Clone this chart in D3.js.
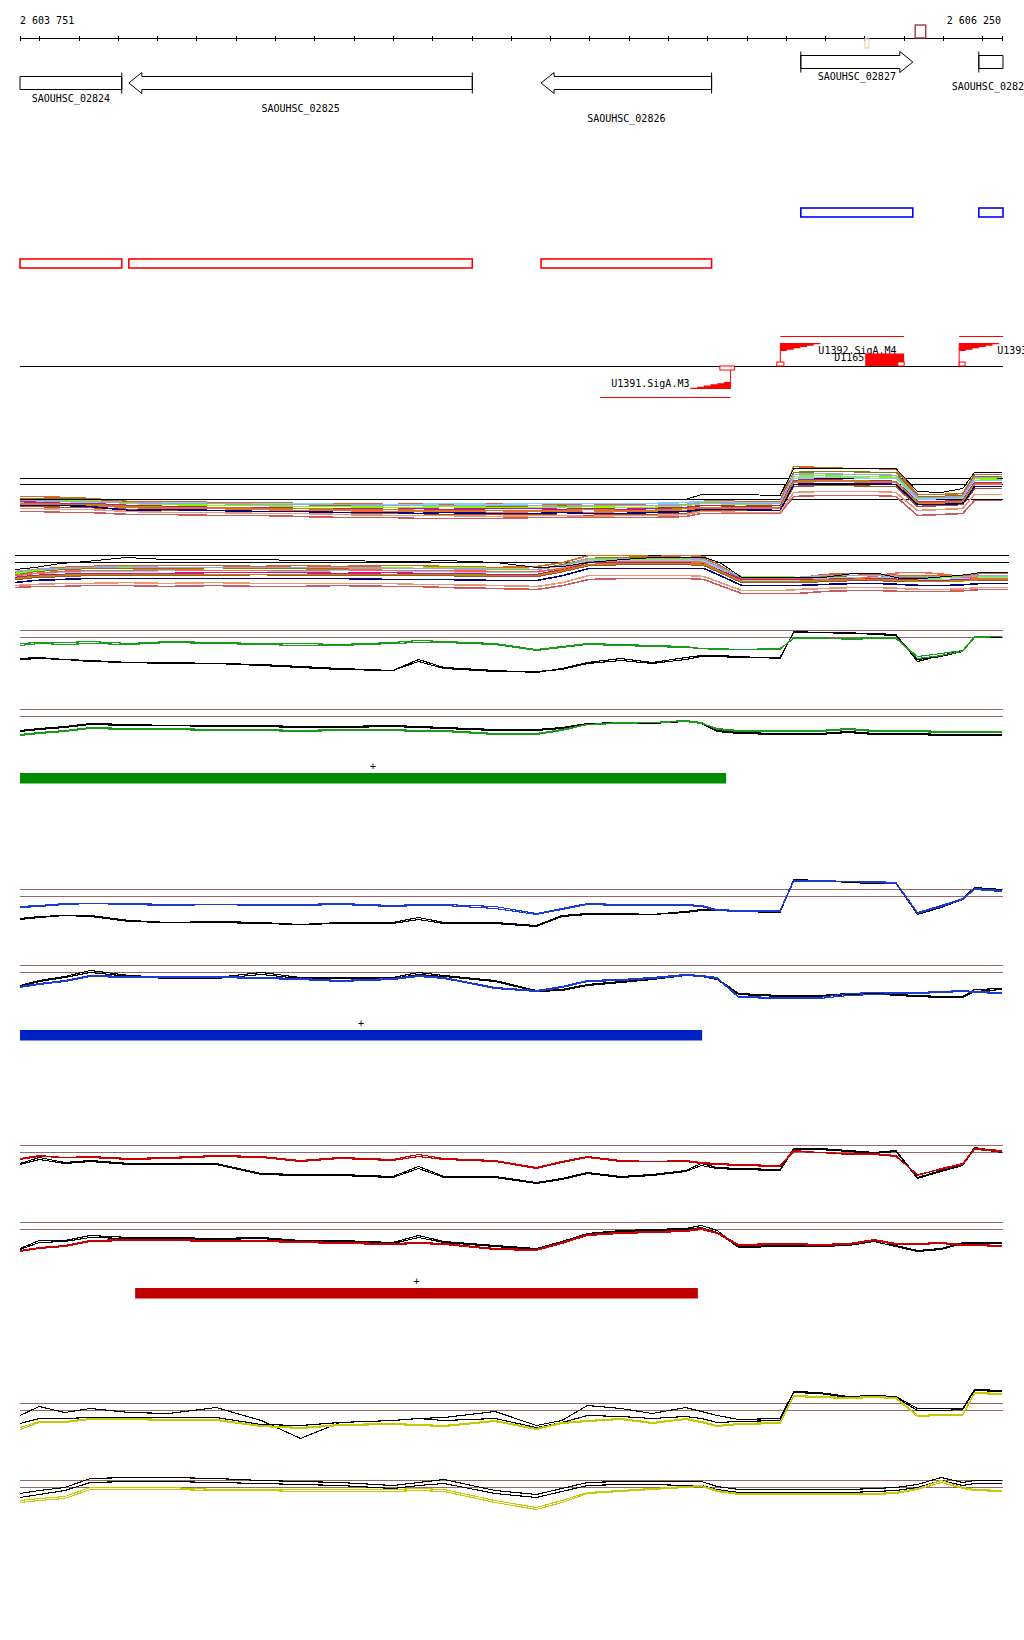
<!DOCTYPE html>
<html><head><meta charset="utf-8">
<script src="https://cdn.jsdelivr.net/npm/d3@7"></script>
<style>
body{margin:0;background:#fff}
svg{display:block}
text{font-family:"DejaVu Sans Mono",monospace;font-size:10px;fill:#000}
path.data{shape-rendering:crispEdges}
</style></head><body>
<svg id="c" width="1024" height="1640"></svg>
<script>
// ---------------- DATA ----------------
const regionStart = 2603751, regionEnd = 2606250;
const axisLabels = ["2 603 751", "2 606 250"];

const geneNames   = ["SAOUHSC_02824","SAOUHSC_02825","SAOUHSC_02826","SAOUHSC_02827","SAOUHSC_02828"];
const geneStarts  = [2603500, 2604028, 2605077, 2605738, 2606191];
const geneEnds    = [2604010, 2604902, 2605511, 2606023, 2606600];
const geneStrands = ["-","-","-","+","+"];
const geneLabelRows = [0,1,2,0,1];

const siteStarts  = [2605901, 2606029];
const siteEnds    = [2605911, 2606056];
const siteStrands = ["-","+"];

const promoterNames   = ["U1391.SigA.M3","U1392.SigA.M4","U1393.SigA.M4"];
const promoterPos     = [2605559, 2605686, 2606141];
const promoterStrands = ["-","+","+"];
const promoterBoxStarts = [2605532, 2605677, 2606141];
const promoterBoxEnds   = [2605569, 2605695, 2606156];
const unitStarts = [2605227, 2605686, 2606141];
const unitEnds   = [2605559, 2606001, 2606400];
const terminatorNames  = ["D1165"];
const terminatorStarts = [2605902];
const terminatorEnds   = [2606001];
const terminatorBoxStarts = [2605985];

const positions = [2603751,2603800,2603865,2603930,2604030,2604130,2604250,2604365,2604465,2604565,
  2604700,2604765,2604830,2604960,2605065,2605130,2605195,2605280,2605360,2605445,
  2605485,2605525,2605580,2605685,2605720,2605785,2605860,2605925,2605980,2606035,
  2606095,2606150,2606180,2606250];

// multi-condition track 1
const m1Black = [39,39,39,39,39,39,39,39,39,39,39,39,39,39,39,39,39,39,39,39,44,44,44,43,70,70,70,70,70,47,46,50,66,66];
const m1s1  = [42,42,41,40,37,37,36,36,35,35,34,35,34,35,35,34,35,34,35,36,37,38,37,37,72,71,70,70,69,44,44,45,64,64];
const m1s2  = [40,40,40,39,36,35,35,34,34,33,33,33,33,32,33,33,32,33,33,34,36,36,36,36,66,67,67,66,66,42,42,43,62,62];
const m1s3  = [39,39,38,38,35,34,33,33,32,32,31,31,32,31,31,31,32,31,31,33,35,35,34,35,62,63,62,62,61,40,40,41,60,59];
const m1s4  = [36,37,37,36,36,36,35,35,35,34,34,34,35,34,35,35,35,35,35,36,37,37,36,36,60,61,61,60,60,39,40,40,58,58];
const m1s5  = [37,36,35,35,33,32,31,31,30,30,29,30,29,30,30,29,30,29,30,31,33,33,32,33,58,59,58,58,57,37,37,38,56,56];
const m1s6  = [34,34,33,33,31,30,30,29,28,28,27,27,27,26,27,27,26,27,27,28,30,30,30,30,56,57,57,56,56,35,35,36,54,54];
const m1s7  = [32,32,31,31,29,28,28,27,27,26,25,25,24,24,24,23,23,24,24,25,28,28,28,28,52,53,53,52,52,32,33,34,50,50];
const m1s8  = [33,33,33,32,28,29,28,27,27,26,26,25,26,25,25,26,25,25,26,27,29,29,29,28,54,55,55,55,54,34,34,35,52,52];
const m1s9  = [38,38,37,37,36,35,35,34,34,34,33,33,33,33,33,32,33,33,33,34,36,36,35,35,64,65,64,64,63,41,41,42,61,61];
const m1s10 = [35,35,34,34,32,31,31,30,30,29,29,28,28,28,28,28,29,28,28,30,31,31,31,31,57,58,58,57,57,36,36,37,55,55];
const m1s11 = [27,27,26,26,24,24,23,23,22,21,21,20,20,20,21,21,21,21,21,22,25,25,25,25,42,43,43,43,42,23,24,25,38,38];
const m1s12 = [30,30,29,29,27,26,26,25,25,24,23,23,23,22,23,23,22,23,23,24,27,27,26,26,46,47,47,47,46,28,29,30,44,44];

// multi-condition track 2
const m2Black = [46,48,52,54,58,56,56,56,55,55,54,54,55,53,48,49,53,56,58,58,58,53,38,38,38,38,42,42,37,37,39,41,43,43];
const m2s1  = [43,46,48,49,50,50,50,49,50,49,50,50,49,48,49,53,60,60,59,60,59,50,37,37,37,41,42,41,40,40,40,40,42,42];
const m2s2  = [41,44,46,47,47,47,48,47,47,47,47,47,47,46,46,51,57,58,58,58,57,48,36,36,36,39,40,40,38,38,38,39,40,40];
const m2s3  = [42,45,47,48,48,48,48,48,48,48,48,47,48,47,46,50,56,56,56,56,55,47,39,39,38,38,38,38,37,37,38,39,39,39];
const m2s4  = [39,42,43,44,44,45,45,45,44,45,45,44,44,43,43,48,55,55,55,55,54,46,35,35,35,37,38,38,37,36,36,37,38,38];
const m2s5  = [38,40,41,42,42,42,43,43,43,42,43,42,42,41,41,46,53,53,53,53,52,45,36,36,36,36,37,37,36,35,35,36,37,37];
const m2s6  = [40,42,44,45,45,46,45,45,45,46,45,45,45,44,44,47,54,54,54,54,53,44,34,34,34,36,36,40,43,43,41,38,37,37];
const m2s7  = [36,38,39,40,40,40,40,41,40,40,40,40,40,39,39,44,50,51,51,51,50,43,33,33,33,34,35,35,34,34,34,35,35,35];
const m2s8  = [33,35,36,37,37,37,37,37,37,37,36,36,36,35,35,40,47,47,47,47,47,40,30,30,30,31,32,32,31,30,30,31,32,32];
const m2s9  = [44,46,47,48,49,48,48,48,48,48,47,47,47,46,46,50,57,57,57,57,56,48,38,38,38,40,40,40,39,39,39,39,40,40];
const m2s10 = [37,39,40,41,41,41,41,41,41,41,41,41,41,40,40,45,51,52,52,52,51,44,34,34,34,35,36,36,35,34,34,35,36,36];
const m2s11 = [28,29,29,30,30,29,30,29,29,30,29,29,28,27,26,30,36,37,37,37,36,30,22,22,22,24,25,25,24,24,24,25,26,26];
const m2s12 = [30,31,32,32,33,32,33,32,32,32,32,31,31,30,29,33,40,40,40,40,39,33,25,25,26,27,28,28,27,26,26,27,28,28];

// condition A (green)
const greenTopBlack1 = [32,33,31,30,28,28,27,26,24,22,20,31,23,20,18,22,28,32,28,33,35,35,34,32,59,58,57,57,56,29,35,40,54,54];
const greenTopBlack2 = [31,32,31,29,28,27,27,25,23,21,20,29,22,19,19,21,27,30,27,31,34,34,33,33,58,58,58,56,55,31,34,39,54,53];
const greenTop1 = [47,48,48,49,47,49,48,47,47,46,48,50,49,47,41,44,47,46,45,44,42,42,41,41,53,53,51,52,52,34,37,40,54,54];
const greenTop2 = [45,47,46,47,46,48,47,46,45,45,47,48,48,46,40,43,46,45,44,43,42,41,41,42,52,52,52,53,53,32,35,39,53,54];
const greenBotBlack1 = [39,41,43,46,45,44,44,44,43,43,44,43,42,40,40,42,46,47,47,49,47,39,37,36,36,36,38,36,36,36,35,35,35,35];
const greenBotBlack2 = [38,40,42,45,44,44,43,43,42,42,43,42,41,39,39,41,45,46,46,48,46,38,36,35,35,35,37,35,35,35,34,34,34,34];
const greenBot1 = [34,36,38,41,40,40,39,39,38,39,39,38,38,35,35,39,45,47,47,49,47,40,38,38,38,38,40,38,38,38,37,37,37,37];
const greenBot2 = [35,37,39,42,41,41,40,40,39,40,40,39,39,36,36,40,45,46,47,48,46,41,39,39,39,39,41,39,39,39,38,38,38,38];

// condition B (blue)
const blueTopBlack1 = [31,33,34,34,29,27,28,27,25,27,27,32,27,27,24,34,36,36,35,38,40,40,39,38,70,69,68,67,67,36,43,51,62,60];
const blueTopBlack2 = [30,32,34,33,28,27,27,26,25,26,26,30,26,26,23,33,35,35,35,37,39,39,38,37,69,69,67,66,66,35,42,50,61,59];
const blueTop1 = [43,44,46,46,46,45,45,45,45,46,44,45,45,43,36,41,46,45,45,45,44,40,39,39,69,69,68,68,67,37,44,51,61,59];
const blueTop2 = [42,43,45,46,45,44,45,44,44,45,43,44,44,41,35,40,45,44,44,44,43,39,38,38,68,68,68,67,66,36,43,50,60,58];
const blueBotBlack1 = [40,45,49,55,50,48,48,53,48,48,48,53,50,45,35,36,41,44,47,51,50,47,32,30,30,30,32,33,31,30,29,29,36,37];
const blueBotBlack2 = [39,44,48,53,49,47,47,51,47,47,47,51,49,44,34,35,40,43,46,50,49,46,31,29,29,29,31,32,30,29,28,28,34,36];
const blueBot1 = [39,42,45,50,49,49,49,48,47,45,47,50,48,38,35,39,45,46,48,51,50,48,29,28,28,28,32,33,33,33,34,35,34,33];
const blueBot2 = [38,41,44,49,48,48,48,47,46,44,46,49,47,37,34,38,44,45,47,50,49,47,28,27,27,27,30,31,32,32,33,34,33,32];

// condition C (red)
const redTopBlack1 = [42,48,43,45,42,42,42,32,31,31,29,39,29,29,23,27,33,29,31,35,42,38,37,36,57,57,55,53,55,28,35,41,58,54];
const redTopBlack2 = [41,46,42,44,41,41,41,31,30,30,28,37,28,28,22,26,32,28,30,34,40,37,36,35,56,56,54,52,54,27,34,40,57,53];
const redTop1 = [47,50,48,49,47,48,50,49,45,48,46,51,47,45,38,44,49,45,44,45,43,42,41,40,55,53,52,52,50,30,37,42,57,55];
const redTop2 = [46,49,48,48,46,47,49,48,44,47,45,49,46,44,37,43,48,44,44,44,42,41,40,39,54,53,51,51,49,31,36,41,56,54];
const redBotBlack1 = [34,42,42,47,45,45,44,45,42,42,40,47,41,37,34,41,49,52,53,54,57,52,36,37,37,37,38,43,37,32,34,40,40,40];
const redBotBlack2 = [33,40,41,45,44,44,43,44,41,41,39,45,40,36,33,40,48,51,52,53,55,50,35,36,36,36,37,41,36,31,33,39,39,39];
const redBot1 = [32,35,37,42,43,43,42,42,41,40,39,40,39,34,33,40,48,50,51,52,54,50,38,39,39,38,39,43,39,39,40,38,38,37];
const redBot2 = [31,34,36,41,42,42,41,41,40,39,38,39,38,33,32,39,47,49,50,51,53,49,37,38,38,37,38,42,38,38,39,37,37,36];

// condition D (yellow)
const yellowTopBlack1 = [48,57,51,55,51,50,56,43,25,41,43,45,46,52,38,43,58,55,50,56,52,48,44,45,72,71,67,68,67,55,55,55,74,73];
const yellowTopBlack2 = [40,45,45,46,46,46,46,39,38,41,43,45,43,45,36,41,48,47,45,47,45,41,42,43,71,70,66,67,66,53,53,54,73,72];
const yellowTop1 = [36,42,42,45,45,44,44,38,36,39,40,39,38,43,35,41,43,45,41,45,42,38,40,41,68,67,66,67,66,48,49,49,71,70];
const yellowTop2 = [34,41,41,44,44,43,43,37,35,38,39,38,37,42,34,40,42,44,40,44,41,37,39,40,67,66,65,66,65,47,48,48,70,69];
const yellowBotBlack1 = [47,50,53,62,63,63,62,60,59,58,55,58,61,50,46,52,58,59,59,59,59,54,51,51,51,51,51,52,53,56,63,58,60,60];
const yellowBotBlack2 = [43,46,50,58,59,59,58,57,56,55,52,55,57,47,43,49,55,56,56,55,55,51,48,48,48,48,48,49,50,53,60,55,57,57];
const yellowBot1 = [40,42,44,53,53,53,51,51,51,51,51,52,51,40,33,40,48,50,52,54,55,50,47,47,47,47,47,47,48,52,60,53,51,50];
const yellowBot2 = [38,40,42,51,51,51,50,50,49,49,49,50,49,38,31,38,47,49,51,53,54,49,46,46,46,46,46,46,47,51,58,52,50,49];

const thresholdHigh = 60, thresholdLow = 53;
const m1Thresholds = [60, 54, 39];
const m2Thresholds = [60, 53];

const unitBarStarts = [2603751, 2603751, 2604044];
const unitBarEnds   = [2605548, 2605487, 2605476];
const unitBarLabels = ["+", "+", "+"];

// ---------------- DRAWING ----------------
const svg = d3.select("#c");
const x = d3.scaleLinear().domain([regionStart, regionEnd]).range([20, 1002]);
const x2 = d3.scaleLinear().domain([regionStart, regionEnd]).range([15, 1008]);
const XMIN = 20, XMAX = 1003;
const cx = v => Math.max(XMIN, Math.min(XMAX, x(v)));

// axis
const axisY = 38.5;
const tickVals = [regionStart, ...d3.range(2603800, 2606201, 100), regionEnd];
const axG = svg.append("g").attr("transform", `translate(0,${axisY})`)
  .call(d3.axisBottom(x).tickValues(tickVals).tickSize(3).tickSizeOuter(0).tickFormat(""));
axG.select(".domain").attr("stroke", "#000").attr("d", `M${x(regionStart)},0H${x(regionEnd)}`);
axG.selectAll(".tick line").attr("y1", -2.5).attr("y2", 2.5).attr("stroke", "#000").attr("shape-rendering", "crispEdges");
svg.append("text").attr("x", 20).attr("y", 23.5).text(axisLabels[0]);
svg.append("text").attr("x", 1001).attr("y", 23.5).attr("text-anchor", "end").text(axisLabels[1]);

// site marks on axis
siteStarts.forEach((s, i) => {
  const up = siteStrands[i] === "+";
  svg.append("rect").attr("x", x(s)).attr("width", x(siteEnds[i]) - x(s))
    .attr("y", up ? 25 : 39).attr("height", up ? 13 : 9)
    .attr("fill", "none").attr("stroke", up ? "#a02828" : "#f6d3c2").attr("stroke-width", 1.3);
});

// genes
geneNames.forEach((name, i) => {
  const minus = geneStrands[i] === "-";
  const yc = minus ? 83 : 62, sh = 6.5, hh = 10.5, head = 13;
  const xs = cx(geneStarts[i]), xe = cx(geneEnds[i]);
  const startIn = geneStarts[i] >= regionStart, endIn = geneEnds[i] <= regionEnd;
  let pts;
  if (minus) {
    if (startIn) pts = [[xs, yc], [xs + head, yc - hh], [xs + head, yc - sh], [xe, yc - sh], [xe, yc + sh], [xs + head, yc + sh], [xs + head, yc + hh]];
    else pts = [[xs, yc - sh], [xe, yc - sh], [xe, yc + sh], [xs, yc + sh]];
  } else {
    if (endIn) pts = [[xe, yc], [xe - head, yc - hh], [xe - head, yc - sh], [xs, yc - sh], [xs, yc + sh], [xe - head, yc + sh], [xe - head, yc + hh]];
    else pts = [[xs, yc - sh], [xe, yc - sh], [xe, yc + sh], [xs, yc + sh]];
  }
  svg.append("path").attr("d", d3.line()(pts) + "Z").attr("fill", "none").attr("stroke", "#000").attr("stroke-width", 1);
  const markX = minus ? (endIn ? xe : null) : (startIn ? xs : null);
  if (markX !== null) svg.append("line").attr("x1", markX).attr("x2", markX).attr("y1", yc - hh).attr("y2", yc + hh).attr("stroke", "#000");
  svg.append("text").attr("x", (xs + xe) / 2).attr("y", yc + hh + (minus ? 8 : 7) + geneLabelRows[i] * 10)
    .attr("text-anchor", "middle").text(name);
  // strand rows
  svg.append("rect").attr("x", xs).attr("width", xe - xs)
    .attr("y", minus ? 259 : 208).attr("height", 9)
    .attr("fill", "none").attr("stroke", minus ? "#ff0000" : "#0000ff").attr("stroke-width", 1.6);
});

// promoters / terminators
const baseY = 366;
svg.append("line").attr("x1", XMIN).attr("x2", XMAX).attr("y1", baseY + 0.5).attr("y2", baseY + 0.5).attr("stroke", "#000");
const RED = "#ff0000";
promoterNames.forEach((name, i) => {
  const px = x(promoterPos[i]), plus = promoterStrands[i] === "+";
  const L = 40, h = plus ? 8 : 7, n = 6;
  if (plus) {
    const top = 343;
    svg.append("line").attr("x1", px).attr("x2", px).attr("y1", baseY).attr("y2", top).attr("stroke", RED);
    const pts = [[px, top], [px + L, top]];
    for (let k = n - 1; k >= 0; k--) { const yy = top + h * (n - k) / n; pts.push([px + L * (k + 1) / n, yy], [px + L * k / n, yy]); }
    svg.append("path").attr("d", d3.line()(pts) + "Z").attr("fill", RED);
    svg.append("text").attr("x", px + L - 2).attr("y", 353.5).text(name);
    svg.append("line").attr("x1", px).attr("x2", cx(unitEnds[i])).attr("y1", 336.5).attr("y2", 336.5).attr("stroke", RED);
    svg.append("rect").attr("x", x(promoterBoxStarts[i])).attr("width", x(promoterBoxEnds[i]) - x(promoterBoxStarts[i]))
      .attr("y", baseY - 4).attr("height", 4).attr("fill", "#fff").attr("stroke", RED);
  } else {
    const bot = 389;
    svg.append("line").attr("x1", px).attr("x2", px).attr("y1", baseY).attr("y2", bot).attr("stroke", RED);
    const pts = [[px, bot], [px - L, bot]];
    for (let k = n - 1; k >= 0; k--) { const yy = bot - h * (n - k) / n; pts.push([px - L * (k + 1) / n, yy], [px - L * k / n, yy]); }
    svg.append("path").attr("d", d3.line()(pts) + "Z").attr("fill", RED);
    svg.append("text").attr("x", px - L - 1).attr("y", 386.5).attr("text-anchor", "end").text(name);
    svg.append("line").attr("x1", cx(unitStarts[i])).attr("x2", px).attr("y1", 397.5).attr("y2", 397.5).attr("stroke", RED);
    svg.append("rect").attr("x", x(promoterBoxStarts[i])).attr("width", x(promoterBoxEnds[i]) - x(promoterBoxStarts[i]))
      .attr("y", baseY).attr("height", 4).attr("fill", "#fff").attr("stroke", RED);
  }
});
terminatorNames.forEach((name, i) => {
  const a = x(terminatorStarts[i]), b = x(terminatorEnds[i]);
  svg.append("rect").attr("x", a).attr("width", b - a).attr("y", 353.5).attr("height", 12.5).attr("fill", RED);
  svg.append("rect").attr("x", x(terminatorBoxStarts[i])).attr("width", b - x(terminatorBoxStarts[i]))
    .attr("y", baseY - 4).attr("height", 4).attr("fill", "#fff").attr("stroke", RED);
  svg.append("text").attr("x", a - 1).attr("y", 361).attr("text-anchor", "end").text(name);
});

// multi-condition tracks
const multiColors = ["#d2691e","#808000","#7cfc00","#87cefa","#c71585","#ff6347","#a0522d","#000080","#a0a0e0","#b8860b","#cd5c5c","#e9967a"];
function multiTrack(xs, top, thresholds, series, black) {
  const y = d3.scaleLinear().domain([0, 60]).range([top + 60, top]);
  const g = svg.append("g");
  thresholds.forEach(t => g.append("line").attr("x1", xs.range()[0]).attr("x2", xs.range()[1] + 1)
    .attr("y1", y(t) + 0.5).attr("y2", y(t) + 0.5).attr("stroke", "#000"));
  const line = d3.line().x((d, i) => xs(positions[i])).y(d => y(d) + 0.5);
  series.forEach((s, k) => g.append("path").attr("class", "data").attr("d", line(s)).attr("fill", "none")
    .attr("stroke", multiColors[k % multiColors.length]).attr("stroke-width", 1.6));
  g.append("path").attr("class", "data").attr("d", line(black)).attr("fill", "none").attr("stroke", "#000").attr("stroke-width", 1);
}
multiTrack(x, 478, m1Thresholds, [m1s1,m1s2,m1s3,m1s4,m1s5,m1s6,m1s7,m1s8,m1s9,m1s10,m1s11,m1s12], m1Black);
multiTrack(x2, 555, m2Thresholds, [m2s1,m2s2,m2s3,m2s4,m2s5,m2s6,m2s7,m2s8,m2s9,m2s10,m2s11,m2s12], m2Black);

// per-condition panels
const conditions = [
  {color: "#1c9a1c", bar: "#008c00", tops: [630, 709], barY: 773,
   series: [[greenTopBlack1, greenTopBlack2, greenTop1, greenTop2], [greenBotBlack1, greenBotBlack2, greenBot1, greenBot2]]},
  {color: "#1a3cd6", bar: "#0022c4", tops: [889, 965], barY: 1030,
   series: [[blueTopBlack1, blueTopBlack2, blueTop1, blueTop2], [blueBotBlack1, blueBotBlack2, blueBot1, blueBot2]]},
  {color: "#cc0000", bar: "#c00000", tops: [1145, 1222], barY: 1288,
   series: [[redTopBlack1, redTopBlack2, redTop1, redTop2], [redBotBlack1, redBotBlack2, redBot1, redBot2]]},
  {color: "#c8c800", bar: null, tops: [1403, 1480], barY: null,
   series: [[yellowTopBlack1, yellowTopBlack2, yellowTop1, yellowTop2], [yellowBotBlack1, yellowBotBlack2, yellowBot1, yellowBot2]]}
];
conditions.forEach((c, ci) => {
  c.tops.forEach((top, pi) => {
    const y = d3.scaleLinear().domain([0, 60]).range([top + 60, top]);
    const g = svg.append("g");
    [thresholdHigh, thresholdLow].forEach(t => g.append("line").attr("x1", XMIN).attr("x2", XMAX)
      .attr("y1", y(t) + 0.5).attr("y2", y(t) + 0.5).attr("stroke", "#9c6464"));
    const line = d3.line().x((d, i) => x(positions[i])).y(d => y(d) + 0.5);
    const [b1, b2, s1, s2] = c.series[pi];
    [b1, b2].forEach(s => g.append("path").attr("class", "data").attr("d", line(s)).attr("fill", "none").attr("stroke", "#000").attr("stroke-width", 1.1));
    [s1, s2].forEach(s => g.append("path").attr("class", "data").attr("d", line(s)).attr("fill", "none").attr("stroke", c.color).attr("stroke-width", 1.1));
  });
  if (c.bar && ci < unitBarStarts.length) {
    const a = x(unitBarStarts[ci]), b = x(unitBarEnds[ci]);
    svg.append("rect").attr("x", a).attr("width", b - a).attr("y", c.barY).attr("height", 10.5).attr("fill", c.bar);
    svg.append("text").attr("x", (a + b) / 2).attr("y", c.barY - 3.5).attr("text-anchor", "middle").text(unitBarLabels[ci]);
  }
});
</script>
</body></html>
